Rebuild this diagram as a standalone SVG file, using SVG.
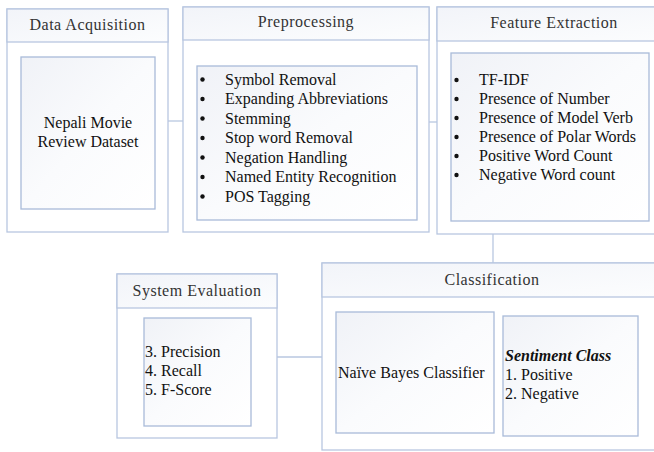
<svg xmlns="http://www.w3.org/2000/svg" width="654" height="452" viewBox="0 0 654 452">
<defs>
<linearGradient id="hdr" x1="0" y1="0" x2="1" y2="1">
<stop offset="0" stop-color="#f2f4f9"/>
<stop offset="1" stop-color="#fcfdfe"/>
</linearGradient>
<linearGradient id="inner" x1="0" y1="0" x2="1" y2="1">
<stop offset="0" stop-color="#f0f2f7"/>
<stop offset="0.5" stop-color="#fafbfd"/>
<stop offset="1" stop-color="#ffffff"/>
</linearGradient>
<style>
.outer{fill:#ffffff;stroke:#b8c7e0;stroke-width:1.3}
.hdr{fill:url(#hdr);stroke:#b8c7e0;stroke-width:1.3}
.inner{fill:url(#inner);stroke:#a9bbd9;stroke-width:1.3}
text{font-family:'Liberation Serif','Times New Roman',Times,serif}
.title{font-size:16px;letter-spacing:0.5px;fill:#333333;text-anchor:middle}
.t{font-size:16px;fill:#111111}
.b{fill:#111111}
.conn{stroke:#b8c7e0;stroke-width:1.3;fill:none}
</style>
</defs>
<g id="connectors">
<line class="conn" x1="168" y1="121" x2="183" y2="121"/>
<line class="conn" x1="429" y1="122" x2="437" y2="122"/>
<line class="conn" x1="493" y1="234" x2="493" y2="263"/>
<line class="conn" x1="277" y1="357" x2="322" y2="357"/>
</g>
<g id="data-acquisition">
<rect class="outer" x="7" y="9" width="161" height="223"/>
<rect class="hdr" x="7" y="9" width="161" height="33"/>
<text class="title" x="87.5" y="30">Data Acquisition</text>
<rect class="inner" x="21" y="57" width="134" height="152"/>
<text class="t" x="88" y="128" text-anchor="middle">Nepali Movie</text>
<text class="t" x="88" y="147" text-anchor="middle">Review Dataset</text>
</g>
<g id="preprocessing">
<rect class="outer" x="183" y="7" width="246" height="225"/>
<rect class="hdr" x="183" y="7" width="246" height="33"/>
<text class="title" x="306" y="27">Preprocessing</text>
<rect class="inner" x="197" y="66" width="220" height="154"/>
<g class="b">
<circle cx="202.5" cy="79.5" r="2.2"/>
<circle cx="202.5" cy="99" r="2.2"/>
<circle cx="202.5" cy="118.5" r="2.2"/>
<circle cx="202.5" cy="138" r="2.2"/>
<circle cx="202.5" cy="157.5" r="2.2"/>
<circle cx="202.5" cy="177" r="2.2"/>
<circle cx="202.5" cy="196.5" r="2.2"/>
</g>
<text class="t" x="225" y="84.5">Symbol Removal</text>
<text class="t" x="225" y="104">Expanding Abbreviations</text>
<text class="t" x="225" y="123.5">Stemming</text>
<text class="t" x="225" y="143">Stop word Removal</text>
<text class="t" x="225" y="162.5">Negation Handling</text>
<text class="t" x="225" y="182">Named Entity Recognition</text>
<text class="t" x="225" y="201.5">POS Tagging</text>
</g>
<g id="feature-extraction">
<rect class="outer" x="437" y="7" width="234" height="227"/>
<rect class="hdr" x="437" y="7" width="234" height="34"/>
<text class="title" x="554" y="28">Feature Extraction</text>
<rect class="inner" x="451" y="53" width="198" height="168"/>
<g class="b">
<circle cx="456.5" cy="80" r="2.2"/>
<circle cx="456.5" cy="99" r="2.2"/>
<circle cx="456.5" cy="118" r="2.2"/>
<circle cx="456.5" cy="137" r="2.2"/>
<circle cx="456.5" cy="156" r="2.2"/>
<circle cx="456.5" cy="175" r="2.2"/>
</g>
<text class="t" x="479" y="85">TF-IDF</text>
<text class="t" x="479" y="104">Presence of Number</text>
<text class="t" x="479" y="123">Presence of Model Verb</text>
<text class="t" x="479" y="142">Presence of Polar Words</text>
<text class="t" x="479" y="161">Positive Word Count</text>
<text class="t" x="479" y="180">Negative Word count</text>
</g>
<g id="system-evaluation">
<rect class="outer" x="117" y="274" width="160" height="164"/>
<rect class="hdr" x="117" y="274" width="160" height="34"/>
<text class="title" x="197" y="296">System Evaluation</text>
<rect class="inner" x="144" y="318" width="107" height="108"/>
<text class="t" x="145" y="357">3. Precision</text>
<text class="t" x="145" y="376">4. Recall</text>
<text class="t" x="145" y="395">5. F-Score</text>
</g>
<g id="classification">
<rect class="outer" x="322" y="263" width="340" height="187"/>
<rect class="hdr" x="322" y="263" width="340" height="34"/>
<text class="title" x="492" y="285">Classification</text>
<rect class="inner" x="336" y="312" width="158" height="121"/>
<text class="t" x="338" y="378">Naïve Bayes Classifier</text>
<rect class="inner" x="503" y="316" width="135" height="120"/>
<text class="t" x="505" y="361" font-weight="bold" font-style="italic">Sentiment Class</text>
<text class="t" x="505" y="380">1. Positive</text>
<text class="t" x="505" y="399">2. Negative</text>
</g>
</svg>
